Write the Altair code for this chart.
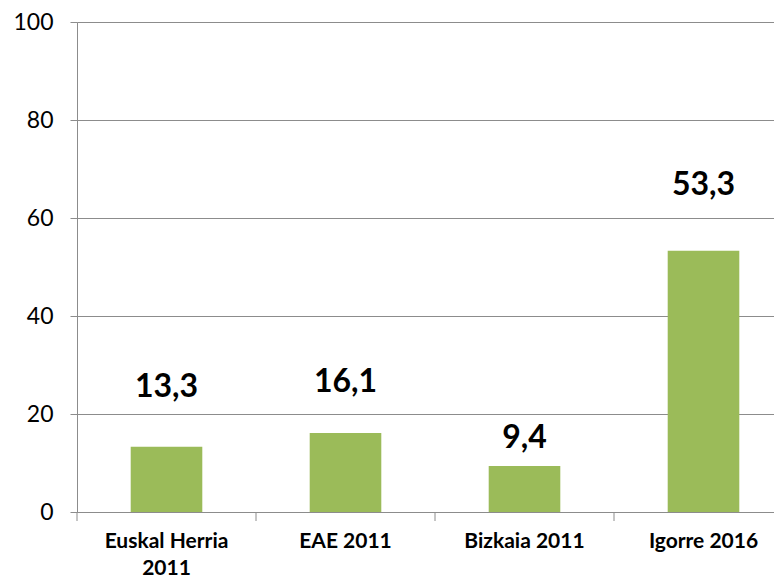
import altair as alt
import pandas as pd

categories = ["Euskal Herria 2011", "EAE 2011", "Bizkaia 2011", "Igorre 2016"]
values = [13.3, 16.1, 9.4, 53.3]
y_ticks = [0, 20, 40, 60, 80, 100]

# style: pixel gap between each bar top and its value label baseline
label_gaps = [50, 41, 18, 56]

GRAY = "#8C8C8C"
GREEN = "#9BBB59"
FONT = "Lato"
PLOT_H = 490

df = pd.DataFrame({"category": categories, "value": values, "gap": label_gaps})

x_enc = alt.X(
    "category:N",
    sort=categories,
    scale=alt.Scale(range=[0, 716], paddingInner=0.6, paddingOuter=0.3),
    axis=alt.Axis(
        title=None,
        labelAngle=0,
        ticks=False,
        tickSize=0,
        domainColor=GRAY,
        labelFont=FONT,
        labelFontWeight="bold",
        labelFontSize=21,
        labelColor="black",
        labelPadding=18,
        labelLineHeight=27,
        labelExpr="datum.label == 'Euskal Herria 2011' ? ['Euskal Herria', '2011'] : datum.label",
    ),
)

y_enc = alt.Y(
    "value:Q",
    scale=alt.Scale(domain=[0, 100]),
    axis=alt.Axis(
        title=None,
        values=y_ticks,
        grid=True,
        gridColor=GRAY,
        gridOpacity=1,
        tickSize=7,
        tickColor=GRAY,
        domainColor=GRAY,
        labelFont=FONT,
        labelFontSize=23,
        labelColor="black",
        labelPadding=17,
    ),
)

base = alt.Chart(df)

bars = base.mark_bar(color=GREEN).encode(x=x_enc, y=y_enc)

labels = base.mark_text(
    font=FONT, fontWeight="bold", fontSize=32, color="black", baseline="alphabetic"
).transform_calculate(
    label="replace(format(datum.value, '.1f'), '.', ',')",
    label_y=f"datum.value + datum.gap * 100 / {PLOT_H}",
).encode(
    x=alt.X("category:N", sort=categories),
    y=alt.Y("label_y:Q"),
    text="label:N",
)

cat_ticks = base.mark_rule(color=GRAY, xOffset=-89.5).encode(
    x=alt.X("category:N", sort=categories),
    y=alt.value(PLOT_H),
    y2=alt.value(PLOT_H + 9),
)

chart = (
    alt.layer(bars, labels, cat_ticks)
    .properties(
        width=697,
        height=PLOT_H,
        autosize=alt.AutoSizeParams(type="none"),
        padding={"left": 69, "top": 14, "right": 0, "bottom": 68},
    )
    .configure_view(stroke=None)
    .configure(background="white")
)

chart.save("out.html", embed_options={"renderer": "svg", "actions": False})
